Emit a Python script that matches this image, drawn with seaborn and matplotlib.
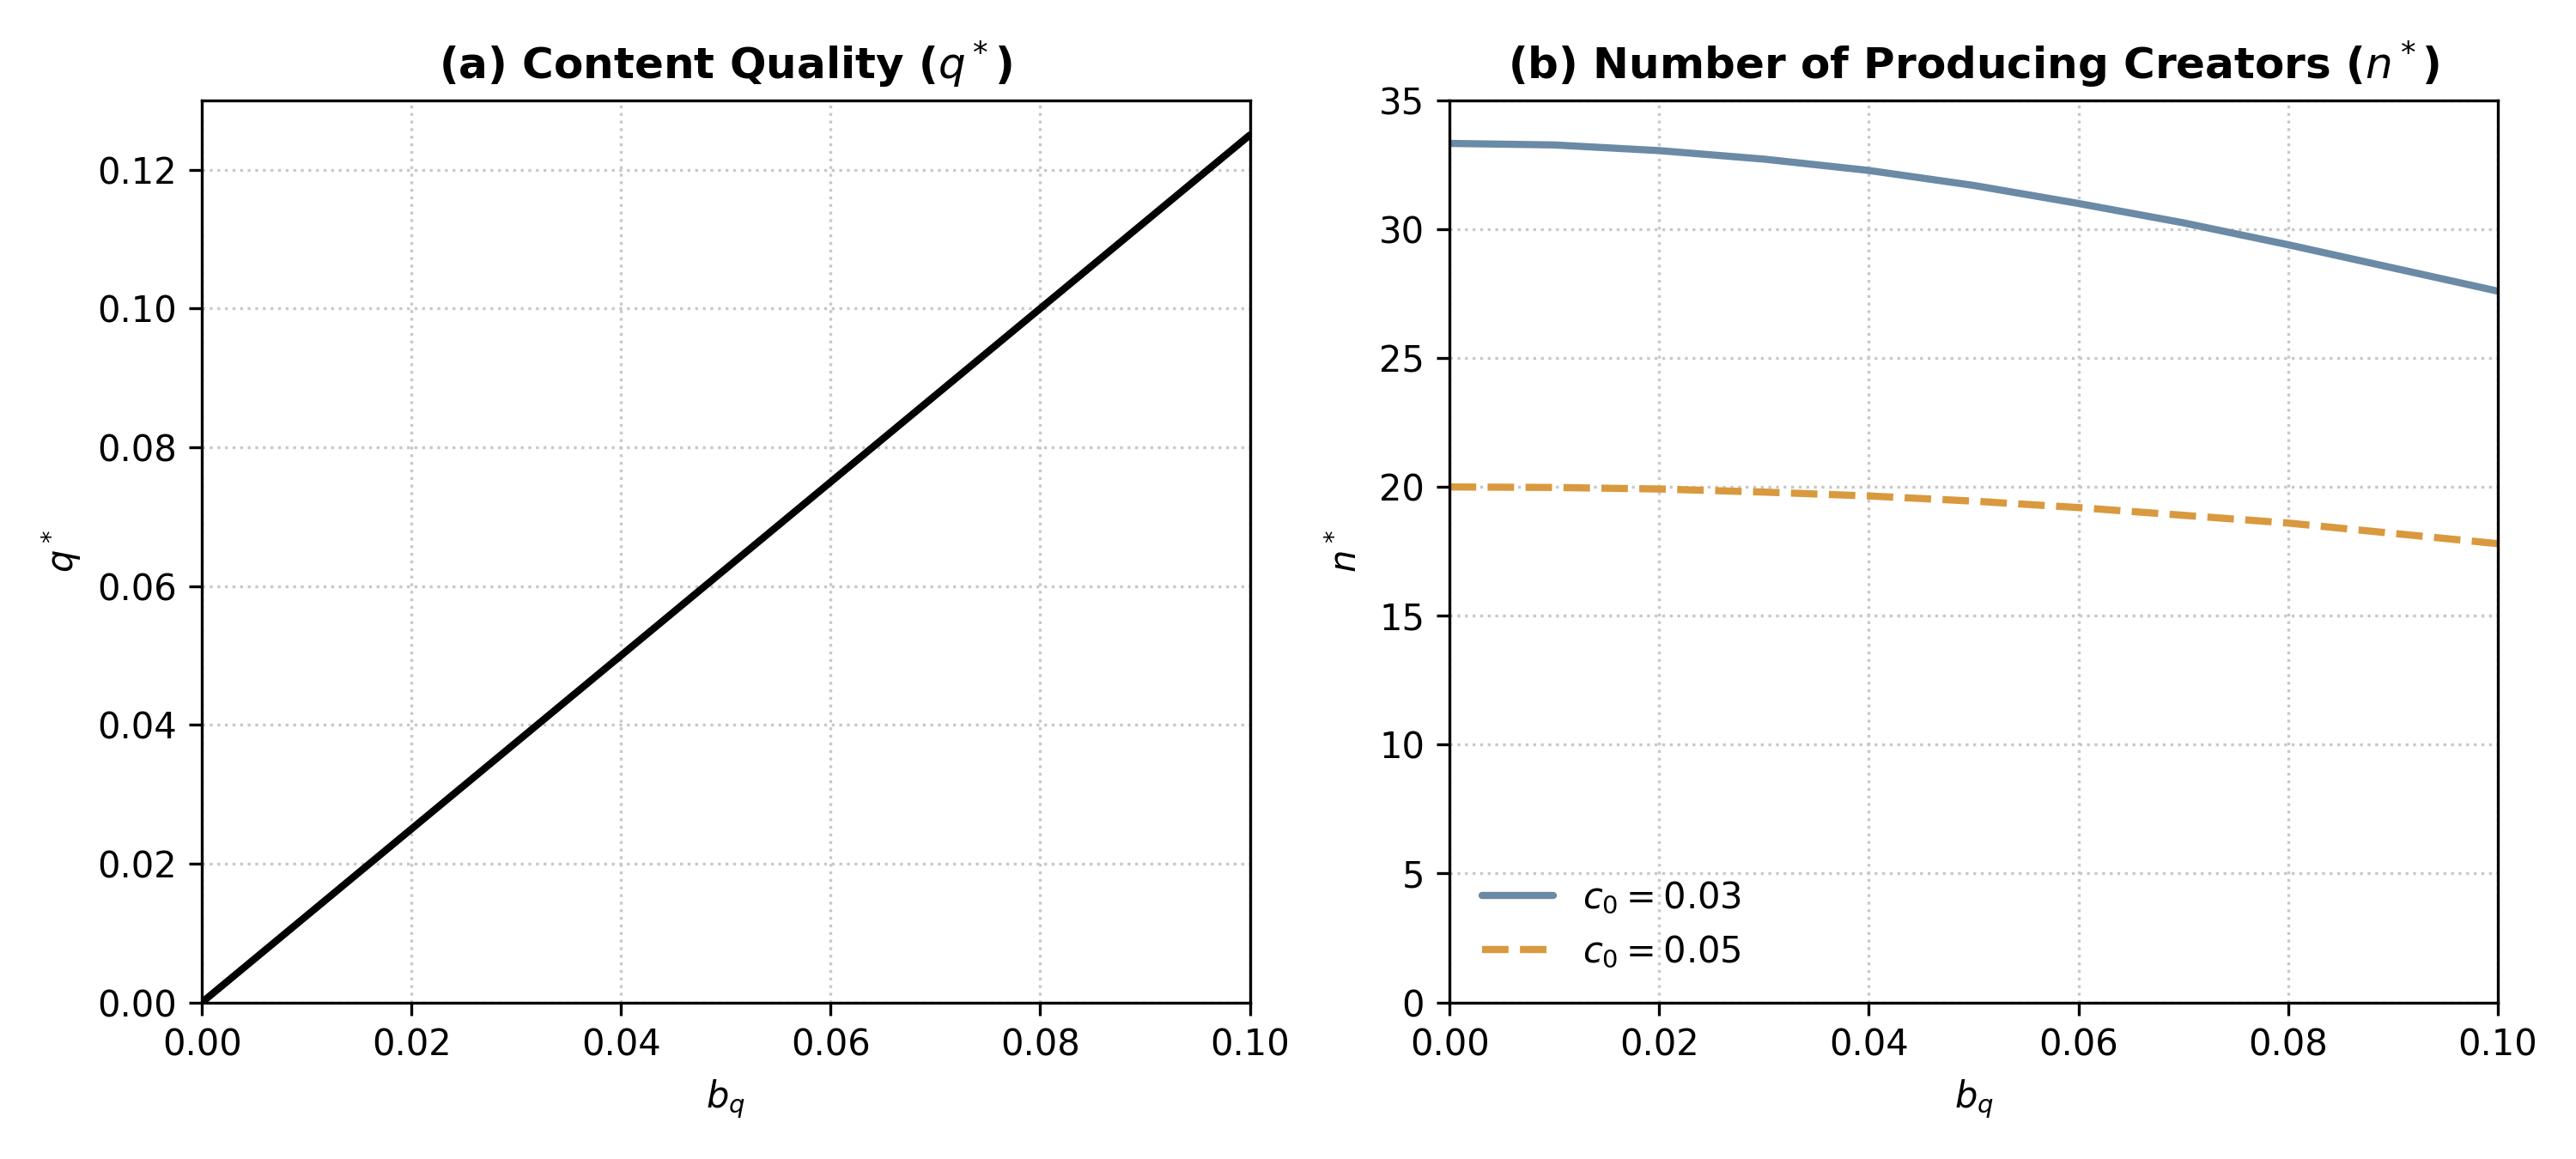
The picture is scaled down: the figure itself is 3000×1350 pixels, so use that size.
import numpy as np
import pandas as pd
import matplotlib
matplotlib.use("Agg")
import matplotlib.pyplot as plt
import seaborn as sns

# values
b_q = [0.0, 0.01, 0.02, 0.03, 0.04, 0.05, 0.06, 0.07, 0.08, 0.09, 0.10]
q_star = [0.0, 0.0125, 0.025, 0.0375, 0.05, 0.0625, 0.075, 0.0875, 0.10, 0.1125, 0.125]
n_c003 = [33.33, 33.27, 33.05, 32.72, 32.28, 31.70, 31.00, 30.25, 29.40, 28.50, 27.60]
n_c005 = [20.00, 19.98, 19.92, 19.80, 19.65, 19.45, 19.20, 18.90, 18.60, 18.20, 17.80]

sns.set_style("ticks")
plt.rcParams['font.family'] = ['DejaVu Sans']
plt.rcParams.update({'text.color': 'black', 'axes.labelcolor': 'black',
                     'xtick.color': 'black', 'ytick.color': 'black',
                     'axes.edgecolor': 'black'})

fig, axes = plt.subplots(1, 2, figsize=(10, 4.5), dpi=300)

ax = axes[0]
sns.lineplot(x=b_q, y=q_star, ax=ax, color='black', linewidth=2)
ax.set_xlim(0, 0.10)
ax.set_ylim(0, 0.13)
ax.set_xlabel(r'$b_q$')
ax.set_ylabel(r'$q^*$')
ax.set_title(r'(a) Content Quality ($q^*$)', fontweight='bold')
ax.grid(True, linestyle=':', color='#c8c8c8', linewidth=0.8)

ax = axes[1]
sns.lineplot(x=b_q, y=n_c003, ax=ax, color='#6a8aa5', linewidth=2, label=r'$c_0 = 0.03$')
sns.lineplot(x=b_q, y=n_c005, ax=ax, color='#d9993e', linewidth=2, linestyle='--', label=r'$c_0 = 0.05$')
ax.set_xlim(0, 0.10)
ax.set_ylim(0, 35)
ax.set_xlabel(r'$b_q$')
ax.set_ylabel(r'$n^*$')
ax.set_title(r'(b) Number of Producing Creators ($n^*$)', fontweight='bold')
ax.grid(True, linestyle=':', color='#c8c8c8', linewidth=0.8)
ax.legend(loc='lower left', frameon=False)

for a in axes:
    a.set_xticks([0, 0.02, 0.04, 0.06, 0.08, 0.10])

plt.tight_layout()
fig.savefig('out.png', dpi=300)
